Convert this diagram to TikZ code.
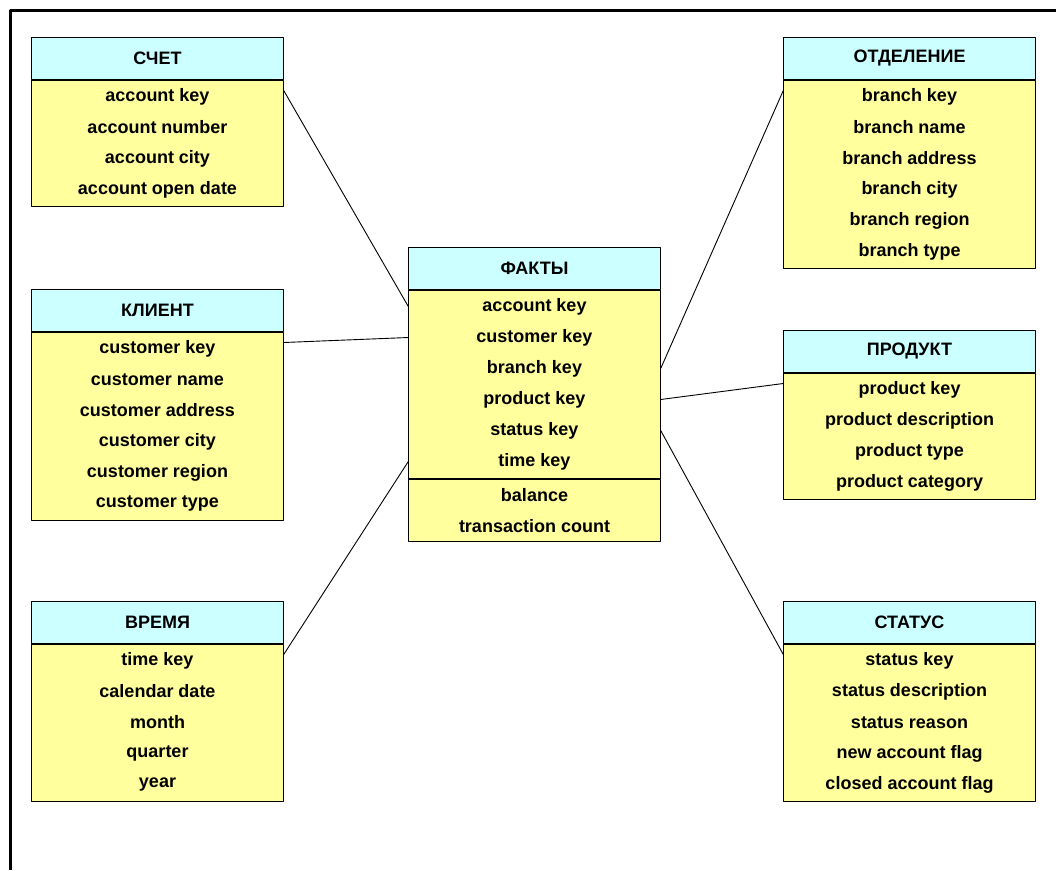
\documentclass[tikz,border=0pt]{standalone}
\usepackage{fontspec}
\setmainfont{Liberation Sans}
\usetikzlibrary{positioning}
\definecolor{headcyan}{RGB}{204,255,255}
\definecolor{bodyyellow}{RGB}{255,255,158}

\begin{document}
\begin{tikzpicture}[x=1pt, y=-1pt, line join=round,
  font=\fontsize{18}{21}\selectfont\bfseries,
  head/.style={draw, fill=headcyan, line width=1pt, minimum width=252pt,
    minimum height=42pt, inner sep=0pt, anchor=north west},
  tbody/.style={draw, fill=bodyyellow, line width=1pt, minimum width=252pt,
    inner sep=0pt},
  field/.style={minimum width=252pt, minimum height=31pt, inner sep=0pt},
  link/.style={line width=0.9pt}]
  \useasboundingbox (0,0) rectangle (1056,870);
  % frame
  \draw[line width=3pt] (10.5,870) -- (10.5,10.5) -- (1056,10.5);

  % dimension tables, left
  \node[head] (schet) at (31,37) {СЧЕТ};
  \node[tbody, below=0pt of schet, minimum height=126pt] (schetb) {};
  \foreach \t [count=\i] in {account key, account number, account city, account open date}
    \node[field] (schet\i) at ([yshift={-16.5pt-31pt*(\i-1)}] schetb.north) {\t};

  \node[head] (klient) at (31,289) {КЛИЕНТ};
  \node[tbody, below=0pt of klient, minimum height=188pt] (klientb) {};
  \foreach \t [count=\i] in {customer key, customer name, customer address,
      customer city, customer region, customer type}
    \node[field] (klient\i) at ([yshift={-16.5pt-31pt*(\i-1)}] klientb.north) {\t};

  \node[head] (vremya) at (31,601) {ВРЕМЯ};
  \node[tbody, below=0pt of vremya, minimum height=157pt] (vremyab) {};
  \foreach \t [count=\i] in {time key, calendar date, month, quarter, year}
    \node[field] (vremya\i) at ([yshift={-16.5pt-31pt*(\i-1)}] vremyab.north) {\t};

  % fact table
  \node[head] (fakt) at (408,247) {ФАКТЫ};
  \node[tbody, below=0pt of fakt, minimum height=188pt] (faktb) {};
  \node[tbody, below=0pt of faktb, minimum height=62pt] (faktm) {};
  \foreach \t [count=\i] in {account key, customer key, branch key, product key,
      status key, time key}
    \node[field] (fakt\i) at ([yshift={-16.5pt-31pt*(\i-1)}] faktb.north) {\t};
  \foreach \t [count=\i from 7] in {balance, transaction count}
    \node[field] (fakt\i) at ([yshift={-16.5pt-31pt*(\i-7)}] faktm.north) {\t};

  % dimension tables, right
  \node[head] (otdel) at (783,37) {ОТДЕЛЕНИЕ};
  \node[tbody, below=0pt of otdel, minimum height=188pt] (otdelb) {};
  \foreach \t [count=\i] in {branch key, branch name, branch address,
      branch city, branch region, branch type}
    \node[field] (otdel\i) at ([yshift={-16.5pt-31pt*(\i-1)}] otdelb.north) {\t};

  \node[head] (produkt) at (783,330) {ПРОДУКТ};
  \node[tbody, below=0pt of produkt, minimum height=126pt] (produktb) {};
  \foreach \t [count=\i] in {product key, product description, product type,
      product category}
    \node[field] (produkt\i) at ([yshift={-16.5pt-31pt*(\i-1)}] produktb.north) {\t};

  \node[head] (status) at (783,601) {СТАТУС};
  \node[tbody, below=0pt of status, minimum height=157pt] (statusb) {};
  \foreach \t [count=\i] in {status key, status description, status reason,
      new account flag, closed account flag}
    \node[field] (status\i) at ([yshift={-16.5pt-31pt*(\i-1)}] statusb.north) {\t};

  % links
  \draw[link] ([yshift=6pt]schet1.east) -- (fakt1.west);
  \draw[link] ([yshift=6pt]klient1.east) -- (fakt2.west);
  \draw[link] ([yshift=6pt]vremya1.east) -- (fakt6.west);
  \draw[link] ([yshift=6pt]otdel1.west) -- (fakt3.east);
  \draw[link] ([yshift=6pt]produkt1.west) -- (fakt4.east);
  \draw[link] ([yshift=6pt]status1.west) -- (fakt5.east);
\end{tikzpicture}
\end{document}
